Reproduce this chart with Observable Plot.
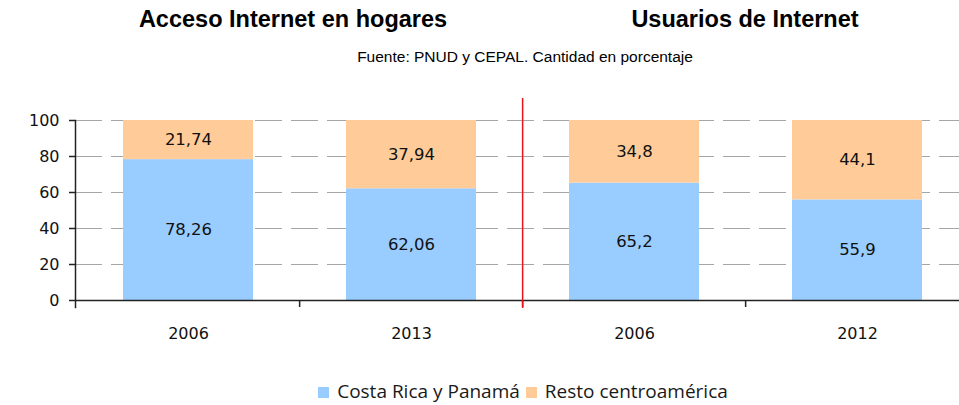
<!DOCTYPE html>
<html><head><meta charset="utf-8">
<script src="https://cdn.jsdelivr.net/npm/d3@7"></script>
<script src="https://cdn.jsdelivr.net/npm/@observablehq/plot@0.6"></script>
<style>
html,body{margin:0;padding:0;background:#fff;}
#wrap{position:relative;width:959px;height:405px;overflow:hidden;background:#fff;}
.title{position:absolute;top:8px;font-family:"Liberation Sans",Arial,sans-serif;font-weight:bold;font-size:23.5px;line-height:23.5px;color:#000;white-space:nowrap;transform:translateX(-50%);}
.sub{position:absolute;top:49px;left:525px;font-family:"Liberation Sans",Arial,sans-serif;font-size:15.5px;line-height:15.5px;color:#000;white-space:nowrap;transform:translateX(-50%);}
#chart{position:absolute;left:0;top:80px;}
#legend{position:absolute;top:382px;left:0;width:1046px;display:flex;justify-content:center;font-family:"Open Sans",sans-serif;font-size:19px;line-height:19px;color:#1a1a1a;white-space:nowrap;}
.item{display:flex;align-items:center;margin:0 3px;}
.sw{width:11px;height:11px;margin-right:8px;margin-top:2px;}
</style></head>
<body>
<div id="wrap">
  <div class="title" id="t1"></div>
  <div class="title" id="t2"></div>
  <div class="sub" id="sub"></div>
  <div id="chart"></div>
  <div id="legend"></div>
</div>
<script>
// ---- data ----
const groupTitles = ["Acceso Internet en hogares", "Usuarios de Internet"];
const subtitle = "Fuente: PNUD y CEPAL. Cantidad en porcentaje";
const keys = ["A2006", "A2013", "U2006", "U2012"];
const categories = ["2006", "2013", "2006", "2012"];
const series = ["Costa Rica y Panamá", "Resto centroamérica"];
const costaRicaPanama = [78.26, 62.06, 65.2, 55.9];
const restoCentroamerica = [21.74, 37.94, 34.8, 44.1];
const yTicks = [0, 20, 40, 60, 80, 100];
const gridTicks = [20, 40, 60, 80, 100];
const colors = ["#99ccff", "#ffcc99"];

// ---- table ----
const data = [];
keys.forEach((k, i) => {
  data.push({key: k, series: series[0], value: costaRicaPanama[i]});
  data.push({key: k, series: series[1], value: restoCentroamerica[i]});
});
const label = new Map(keys.map((k, i) => [k, categories[i]]));
const fmt = v => String(v).replace(".", ",");

// ---- layout ----
const W = 959, H = 290, mL = 75, mR = -11, mT = 40, mB = 70;
const step = (W - mR - mL) / keys.length;
const pad = 0.415;
const numFont = "'DejaVu Sans',sans-serif";

document.getElementById("t1").textContent = groupTitles[0];
document.getElementById("t1").style.left = "293px";
document.getElementById("t2").textContent = groupTitles[1];
document.getElementById("t2").style.left = "745px";
document.getElementById("sub").textContent = subtitle;

const chart = Plot.plot({
  width: W, height: H,
  marginLeft: mL, marginRight: mR, marginTop: mT, marginBottom: mB,
  style: {fontFamily: numFont, color: "#111", background: "transparent", overflow: "visible"},
  x: {domain: keys, padding: pad, paddingOuter: pad / 2, axis: null},
  y: {domain: [0, 100], axis: null},
  color: {domain: series, range: colors},
  marks: [
    Plot.ruleY(gridTicks, {stroke: "#a6a6a6", strokeWidth: 1.2, strokeDasharray: "27,9"}),
    Plot.barY(data, {x: "key", y: "value", fill: "series"}),
    Plot.text(data, Plot.stackY({x: "key", y: "value", z: "series", text: d => fmt(d.value),
      fill: "#111", fontSize: 16.5, fontFamily: numFont})),
    Plot.ruleY([0], {stroke: "#222", strokeWidth: 1.5}),
    Plot.frame({anchor: "left", stroke: "#222", strokeWidth: 1.5, insetBottom: -7}),
    Plot.axisY({ticks: yTicks, label: null, tickSize: 6, tickPadding: 10, fontSize: 16, fill: "#111", stroke: "#222", strokeWidth: 1.5}),
    Plot.axisX({label: null, tickSize: 0, tickPadding: 27, fontSize: 16, fill: "#111", tickFormat: k => label.get(k)}),
    Plot.ruleX(keys.slice(1), {x: d => d, dx: -step / 2, y1: 0, y2: 0, insetBottom: -7, stroke: "#222", strokeWidth: 1.5}),
    Plot.ruleX([keys[2]], {x: d => d, dx: -step / 2, y1: 100, y2: 0, insetTop: -22, insetBottom: -8, stroke: "#e8141c", strokeWidth: 1.5})
  ]
});
document.getElementById("chart").appendChild(chart);

// ---- legend ----
const lg = document.getElementById("legend");
series.forEach((s, i) => {
  const it = document.createElement("div");
  it.className = "item";
  const sw = document.createElement("div");
  sw.className = "sw";
  sw.style.background = colors[i];
  const tx = document.createElement("span");
  tx.textContent = s;
  it.appendChild(sw); it.appendChild(tx);
  lg.appendChild(it);
});
</script>
</body></html>
